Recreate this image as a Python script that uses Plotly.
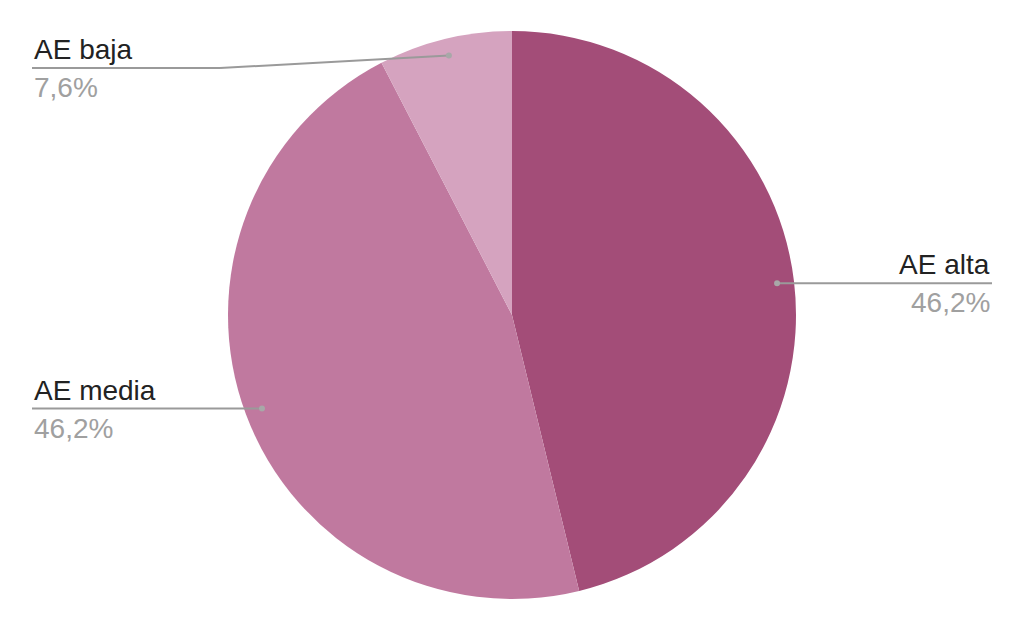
import math
import plotly.graph_objects as go

labels = ["AE alta", "AE media", "AE baja"]
values = [46.2, 46.2, 7.6]
colors = ["#A34D78", "#C0799F", "#D5A3BF"]

W, H = 1024, 631
OFF = 8  # page body margin
CX, CY, R = 512, 315, 284
FONT = "Liberation Sans, Arial, sans-serif"


def px(x):
    return (x - OFF) / W


def py(y):
    return 1 - (y - OFF) / H


fig = go.Figure(go.Pie(
    labels=labels, values=values, sort=False, direction="clockwise", rotation=0,
    marker=dict(colors=colors, line=dict(width=0)),
    textinfo="none", hoverinfo="label+percent", showlegend=False,
    domain=dict(x=[px(CX - R), px(CX + R)], y=[py(CY + R), py(CY - R)]),
))

total = sum(values)
cum = 0.0
shapes = []
annotations = []
for lab, v in zip(labels, values):
    mid = (cum + v / 2) / total * 2 * math.pi
    cum += v
    dx, dy = math.sin(mid), -math.cos(mid)
    dot_x, dot_y = CX + 0.94 * R * dx, CY + 0.94 * R * dy
    line_y = max(dot_y, 68)
    right = dx > 0
    end_x = 992 if right else 32
    elbow_x = dot_x if line_y == dot_y else 220
    gray = "#9A9A9A"
    shapes.append(dict(type="line", xref="paper", yref="paper",
                       x0=px(dot_x), y0=py(dot_y), x1=px(elbow_x), y1=py(line_y),
                       line=dict(color=gray, width=2)))
    shapes.append(dict(type="line", xref="paper", yref="paper",
                       x0=px(elbow_x), y0=py(line_y), x1=px(end_x), y1=py(line_y),
                       line=dict(color=gray, width=2)))
    shapes.append(dict(type="circle", xref="paper", yref="paper",
                       x0=px(dot_x - 3), x1=px(dot_x + 3), y0=py(dot_y + 3), y1=py(dot_y - 3),
                       fillcolor="#A8A8A8", line=dict(width=0)))
    pct = f"{v / total * 100:.1f}%".replace(".", ",")
    anchor = "right" if right else "left"
    annotations.append(dict(text=lab, xref="paper", yref="paper", x=px(end_x), y=py(line_y),
                            xanchor=anchor, yanchor="bottom", yshift=1, showarrow=False,
                            font=dict(family=FONT, size=28, color="#222222")))
    annotations.append(dict(text=pct, xref="paper", yref="paper", x=px(end_x), y=py(line_y),
                            xanchor=anchor, yanchor="top", yshift=-2, showarrow=False,
                            font=dict(family=FONT, size=28, color="#A0A0A0")))

fig.update_layout(
    width=W, height=H, margin=dict(l=0, r=0, t=0, b=0),
    paper_bgcolor="white", plot_bgcolor="white",
    shapes=shapes, annotations=annotations,
)
fig.write_html("out.html")
